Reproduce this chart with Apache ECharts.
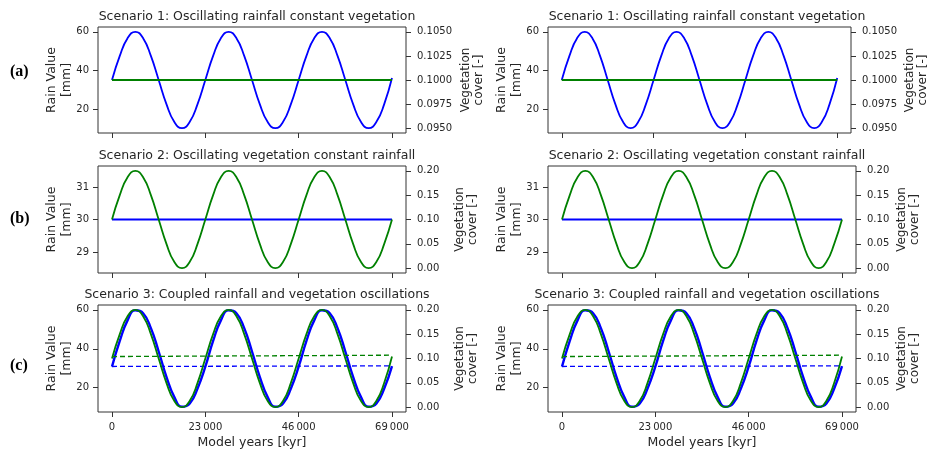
<!DOCTYPE html>
<html>
<head>
<meta charset="utf-8">
<script src="https://cdn.jsdelivr.net/npm/echarts@6/dist/echarts.min.js"></script>
<style>
  html, body { margin: 0; padding: 0; background: #fff; }
  #main { width: 930px; height: 451px; }
</style>
</head>
<body>
<div id="main"></div>
<script>
// model years (x), sampled every 1/12 of the 23 000 yr cycle
const years = [0, 1917, 3833, 5750, 7667, 9583, 11500, 13417, 15333, 17250, 19167, 21083,
  23000, 24917, 26833, 28750, 30667, 32583, 34500, 36417, 38333, 40250, 42167, 44083,
  46000, 47917, 49833, 51750, 53667, 55583, 57500, 59417, 61333, 63250, 65167, 67083, 69000]
const yearEnds = [0, 69000]

// scenario 1: oscillating rain, flat vegetation
const rainOsc = [35, 47.5, 56.7, 60, 56.7, 47.5, 35, 22.5, 13.3, 10, 13.3, 22.5,
  35, 47.5, 56.7, 60, 56.7, 47.5, 35, 22.5, 13.3, 10, 13.3, 22.5,
  35, 47.5, 56.7, 60, 56.7, 47.5, 35, 22.5, 13.3, 10, 13.3, 22.5, 36]
const vegFlat = [0.1, 0.1]

// scenario 2: flat rain, oscillating vegetation
const rainFlat = [30, 30]
const vegOsc = [0.1, 0.15, 0.187, 0.2, 0.187, 0.15, 0.1, 0.05, 0.013, 0, 0.013, 0.05,
  0.1, 0.15, 0.187, 0.2, 0.187, 0.15, 0.1, 0.05, 0.013, 0, 0.013, 0.05,
  0.1, 0.15, 0.187, 0.2, 0.187, 0.15, 0.1, 0.05, 0.013, 0, 0.013, 0.05, 0.1]

// scenario 3: coupled (rain lags vegetation a little)
const rainCoupled = [30.8, 44, 54.6, 59.8, 58.3, 50.6, 38.6, 25.6, 15.3, 10.2, 11.9, 19.6,
  30.8, 44, 54.6, 59.8, 58.3, 50.6, 38.6, 25.6, 15.3, 10.2, 11.9, 19.6,
  30.8, 44, 54.6, 59.8, 58.3, 50.6, 38.6, 25.6, 15.3, 10.2, 11.9, 19.6, 31.1]
const vegCoupled = [0.1, 0.15, 0.187, 0.2, 0.187, 0.15, 0.1, 0.05, 0.013, 0, 0.013, 0.05,
  0.1, 0.15, 0.187, 0.2, 0.187, 0.15, 0.1, 0.05, 0.013, 0, 0.013, 0.05,
  0.1, 0.15, 0.187, 0.2, 0.187, 0.15, 0.1, 0.05, 0.013, 0, 0.013, 0.05, 0.104]
const rainEndLine = [30.9, 31.2]
const vegEndLine = [0.104, 0.1068]

const titles = [
  'Scenario 1: Oscillating rainfall constant vegetation',
  'Scenario 2: Oscillating vegetation constant rainfall',
  'Scenario 3: Coupled rainfall and vegetation oscillations'
]
const rowLabels = ['(a)', '(b)', '(c)']
const xTicks = [0, 23000, 46000, 69000]
const rainTicks = [[20, 40, 60], [29, 30, 31], [20, 40, 60]]
const vegTicks = [
  [0.095, 0.0975, 0.1, 0.1025, 0.105],
  [0, 0.05, 0.1, 0.15, 0.2],
  [0, 0.05, 0.1, 0.15, 0.2]
]

const BLUE = '#0000ff'
const GREEN = '#008000'
const INK = '#262626'
const FRAME = '#333'
const FONT = 'DejaVu Sans'

// layout of the plot boxes (px)
const colLeft = [98, 548]
const colWidth = 308
const rowTop = [27, 166, 305]
const rowHeight = [106, 107, 107]
const vegNameGap = [[53, 47, 47], [52, 39, 39]]
const rainRange = [[7.5, 62.5], [28.35, 31.65], [7.5, 62.5]]
const vegRange = [[0.0945, 0.1055], [-0.01, 0.21], [-0.01, 0.21]]
const vegDigits = [4, 2, 2]

const pair = (xs, ys) => ys.map((v, i) => [xs[i], v])

const myChart = echarts.init(document.getElementById('main'), null, { renderer: 'canvas' })

const grid = [], xAxis = [], yAxis = [], series = [], title = [], graphic = []

for (let c = 0; c < 2; c++) {
  for (let r = 0; r < 3; r++) {
    const g = grid.length
    grid.push({
      left: colLeft[c], top: rowTop[r], width: colWidth, height: rowHeight[r],
      show: true, borderColor: FRAME, borderWidth: 1, backgroundColor: 'transparent'
    })
    title.push({
      text: titles[r],
      left: colLeft[c] + colWidth / 2,
      top: rowTop[r] - 22,
      textAlign: 'center',
      textStyle: { fontFamily: FONT, fontSize: 12.5, fontWeight: 'normal', color: INK }
    })
    const last = r === 2
    xAxis.push({
      type: 'value', gridIndex: g, min: -3450, max: 72450,
      axisLine: { show: false, onZero: false },
      splitLine: { show: false },
      axisTick: { show: true, length: 5, customValues: xTicks, lineStyle: { color: FRAME } },
      axisLabel: {
        show: last, customValues: xTicks, margin: 10,
        fontFamily: FONT, fontSize: 10, color: INK,
        formatter: (v) => String(v).replace(/\B(?=(\d{3})+(?!\d))/g, '\u2009')
      },
      name: last ? 'Model years [kyr]' : '',
      nameLocation: 'middle', nameGap: 24, nameMoveOverlap: false,
      nameTextStyle: { fontFamily: FONT, fontSize: 12.5, color: INK }
    })
    const yl = yAxis.length
    yAxis.push({
      type: 'value', gridIndex: g, position: 'left',
      min: rainRange[r][0], max: rainRange[r][1],
      axisLine: { show: false, onZero: false },
      splitLine: { show: false },
      axisTick: { show: true, length: 5, customValues: rainTicks[r], lineStyle: { color: FRAME } },
      axisLabel: { customValues: rainTicks[r], margin: 9, fontFamily: FONT, fontSize: 10, color: INK },
      name: 'Rain Value\n[mm]', nameLocation: 'middle', nameRotate: 90, nameGap: 24,
      nameMoveOverlap: false,
      nameTextStyle: { fontFamily: FONT, fontSize: 12.5, color: INK, lineHeight: 15 }
    })
    yAxis.push({
      type: 'value', gridIndex: g, position: 'right',
      min: vegRange[r][0], max: vegRange[r][1],
      axisLine: { show: false, onZero: false },
      splitLine: { show: false },
      axisTick: { show: true, length: 5, customValues: vegTicks[r], lineStyle: { color: FRAME } },
      axisLabel: {
        customValues: vegTicks[r], margin: 11, fontFamily: FONT, fontSize: 10, color: INK,
        formatter: (v) => v.toFixed(vegDigits[r])
      },
      name: 'Vegetation\ncover [-]', nameLocation: 'middle', nameRotate: 90,
      nameGap: vegNameGap[c][r], nameMoveOverlap: false,
      nameTextStyle: { fontFamily: FONT, fontSize: 12, color: INK, lineHeight: 13 }
    })
    const line = (data, yIdx, color, extra) => Object.assign({
      type: 'line', xAxisIndex: g, yAxisIndex: yIdx, data: data,
      showSymbol: false, smooth: true, silent: true, animation: false,
      lineStyle: { color: color, width: 1.8 }, z: 2
    }, extra || {})
    if (r === 0) {
      series.push(line(pair(years, rainOsc), yl, BLUE))
      series.push(line(pair(yearEnds, vegFlat), yl + 1, GREEN, { z: 3, smooth: false }))
    } else if (r === 1) {
      series.push(line(pair(yearEnds, rainFlat), yl, BLUE, { smooth: false }))
      series.push(line(pair(years, vegOsc), yl + 1, GREEN, { z: 3 }))
    } else {
      series.push(line(pair(years, rainCoupled), yl, BLUE, { lineStyle: { color: BLUE, width: 2.4 } }))
      series.push(line(pair(yearEnds, rainEndLine), yl, BLUE,
        { smooth: false, lineStyle: { color: BLUE, width: 1.3, type: [5, 3] } }))
      series.push(line(pair(years, vegCoupled), yl + 1, GREEN, { z: 3 }))
      series.push(line(pair(yearEnds, vegEndLine), yl + 1, GREEN,
        { z: 3, smooth: false, lineStyle: { color: GREEN, width: 1.3, type: [5, 3] } }))
    }
  }
}

const rowLabelY = [73, 220, 367]
rowLabels.forEach((t, i) => {
  graphic.push({
    type: 'text', left: 10, top: rowLabelY[i] - 9,
    style: { text: t, font: 'bold 16px "Liberation Serif", "DejaVu Serif", serif', fill: '#000' }
  })
})

myChart.setOption({
  animation: false,
  backgroundColor: '#fff',
  title: title,
  grid: grid,
  xAxis: xAxis,
  yAxis: yAxis,
  series: series,
  graphic: graphic
})
</script>
</body>
</html>
